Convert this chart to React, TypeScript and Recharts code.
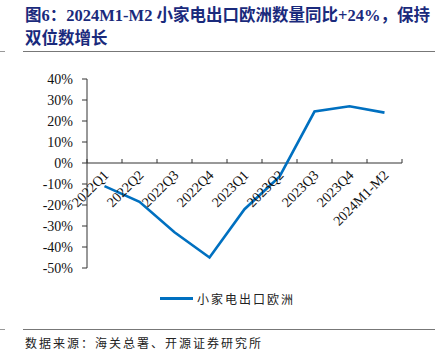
import { LineChart, Line, XAxis, YAxis, ReferenceLine } from "recharts";

const categories = [
  "2022Q1",
  "2022Q2",
  "2022Q3",
  "2022Q4",
  "2023Q1",
  "2023Q2",
  "2023Q3",
  "2023Q4",
  "2024M1-M2",
];
const europeYoY = [-11, -18.5, -33, -45, -22, -6.5, 24.5, 27, 24];
const yTicks = [40, 30, 20, 10, 0, -10, -20, -30, -40, -50];

const data = categories.map((name, i) => ({ name, value: europeYoY[i] }));

const W = 447;
const H = 355;
const PLOT_TOP = 79;
const PLOT_BOTTOM = 268;
const PLOT_LEFT = 87;
const PLOT_RIGHT = 402;
const Y_MIN = -50;
const Y_MAX = 40;
const ZERO_Y = PLOT_TOP + (Y_MAX / (Y_MAX - Y_MIN)) * (PLOT_BOTTOM - PLOT_TOP);
const BAND = (PLOT_RIGHT - PLOT_LEFT) / categories.length;
const X_AXIS_H = 20;

const serif = "'Liberation Serif', 'Times New Roman', serif";
const blue = "#0070C0";

function ZeroAxisTick(props: any) {
  const { x, payload, index } = props;
  const isLast = index === categories.length - 1;
  return (
    <g>
      <line x1={x - BAND / 2} x2={x - BAND / 2} y1={ZERO_Y - 4} y2={ZERO_Y} stroke="#333" />
      {isLast && (
        <line x1={x + BAND / 2} x2={x + BAND / 2} y1={ZERO_Y - 4} y2={ZERO_Y} stroke="#333" />
      )}
      <text
        x={x + 5}
        y={ZERO_Y + 13}
        textAnchor="end"
        fontFamily={serif}
        fontSize={14}
        fill="#111"
        transform={`rotate(-45, ${x + 5}, ${ZERO_Y + 13})`}
      >
        {payload.value}
      </text>
    </g>
  );
}

export default function App() {
  return (
    <div style={{ position: "fixed", left: 0, top: 0, width: W, height: H, background: "#fff" }}>
      <div
        style={{
          position: "absolute",
          left: 25,
          top: 4,
          width: 420,
          fontFamily: "'Liberation Serif', 'Noto Sans CJK SC', serif",
          fontWeight: "bold",
          fontSize: 16.5,
          lineHeight: "23px",
          color: "#1a2a7c",
          whiteSpace: "nowrap",
        }}
      >
        <div>图6：2024M1-M2 小家电出口欧洲数量同比+24%，保持</div>
        <div>双位数增长</div>
      </div>
      <div style={{ position: "absolute", left: 23, top: 51, width: 412, height: 0, borderTop: "1.5px solid #777" }} />
      <div style={{ position: "absolute", left: 0, top: 51, width: 5, height: 0, borderTop: "1.5px solid #999" }} />

      <div style={{ position: "absolute", left: 0, top: 0 }}>
        <LineChart
          width={W}
          height={H}
          data={data}
          margin={{
            top: PLOT_TOP,
            bottom: H - PLOT_BOTTOM - X_AXIS_H,
            left: PLOT_LEFT - 40,
            right: W - PLOT_RIGHT,
          }}
        >
          <XAxis
            dataKey="name"
            height={X_AXIS_H}
            axisLine={false}
            tickLine={false}
            interval={0}
            padding={{ left: BAND / 2, right: BAND / 2 }}
            tick={<ZeroAxisTick />}
          />
          <YAxis
            width={40}
            domain={[Y_MIN, Y_MAX]}
            ticks={yTicks}
            interval={0}
            tickFormatter={(v) => `${v}%`}
            axisLine={{ stroke: "#333" }}
            tickLine={{ stroke: "#333" }}
            tickSize={5}
            tickMargin={9}
            tick={{ fontFamily: serif, fontSize: 14, fill: "#111" }}
          />
          <ReferenceLine y={0} stroke="#333" />
          <Line
            type="linear"
            dataKey="value"
            stroke={blue}
            strokeWidth={2.6}
            dot={false}
            isAnimationActive={false}
          />
        </LineChart>
      </div>

      <div style={{ position: "absolute", left: 160, top: 290, display: "flex", alignItems: "center" }}>
        <div style={{ width: 33, height: 0, borderTop: `3px solid ${blue}` }} />
        <span
          style={{
            marginLeft: 4,
            fontFamily: "'Noto Sans CJK SC', sans-serif",
            fontSize: 12,
            letterSpacing: 2,
            color: "#222",
          }}
        >
          小家电出口欧洲
        </span>
      </div>

      <div style={{ position: "absolute", left: 23, top: 329, width: 412, height: 0, borderTop: "1.5px solid #777" }} />
      <div style={{ position: "absolute", left: 0, top: 329, width: 5, height: 0, borderTop: "1.5px solid #999" }} />
      <div
        style={{
          position: "absolute",
          left: 25,
          top: 334,
          fontFamily: "'Noto Sans CJK SC', sans-serif",
          fontSize: 12,
          letterSpacing: 2,
          color: "#222",
          whiteSpace: "nowrap",
        }}
      >
        数据来源：海关总署、开源证券研究所
      </div>
    </div>
  );
}
